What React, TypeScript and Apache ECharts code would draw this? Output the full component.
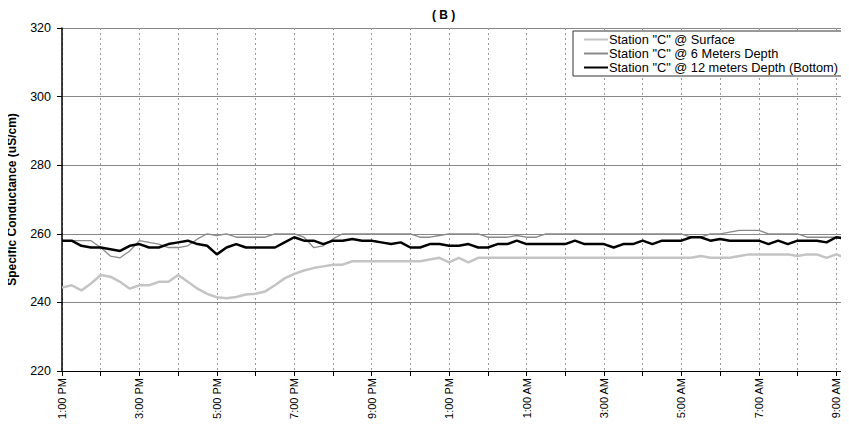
import React, { useEffect, useRef } from "react";
import * as echarts from "echarts";

const SERIES_NAMES = [
  'Station "C" @ Surface',
  'Station "C" @ 6 Meters Depth',
  'Station "C" @ 12 meters Depth (Bottom)',
];

// sampled every 15 minutes starting 1:00 PM
const surface = [
  244.3, 245, 243.5, 245.5, 248, 247.5, 246, 244, 245, 245,
  246, 246, 248, 246, 244, 242.5, 241.5, 241.2, 241.6, 242.3,
  242.5, 243.2, 245, 247, 248.3, 249.3, 250, 250.5, 251, 251,
  252, 252, 252, 252, 252, 252, 252, 252, 252.5, 253,
  251.7, 253, 251.7, 253, 253, 253, 253, 253, 253, 253,
  253, 253, 253, 253, 253, 253, 253, 253, 253, 253,
  253, 253, 253, 253, 253, 253, 253.5, 253, 253, 253,
  253.5, 254, 254, 254, 254, 254, 253.5, 254, 254, 253,
  254, 253,
];

const sixMeters = [
  258, 258, 258, 258, 256, 253.5, 253, 255, 258, 257.5,
  257, 256, 256, 256.5, 258.5, 260, 259.5, 260, 259, 259,
  259, 259, 260, 260, 260, 259, 256, 256.5, 258.5, 260,
  260, 260, 260, 260, 260, 260, 260, 259, 259, 259.5,
  260, 260, 260, 260, 259, 259, 259, 259.5, 259, 259,
  260, 260, 260, 260, 260, 260, 260, 260, 260, 260,
  260, 260, 260, 260, 260, 259, 259, 260, 260, 260.5,
  261, 261, 261, 260, 260, 260, 260, 259, 259, 259,
  259, 259,
];

const bottom = [
  258, 258, 256.5, 256, 256, 255.5, 255, 256.5, 257, 256,
  256, 257, 257.5, 258, 257, 256.5, 254, 256, 257, 256,
  256, 256, 256, 257.5, 259, 258, 258, 257, 258, 258,
  258.5, 258, 258, 257.5, 257, 257.5, 256, 256, 257, 257,
  256.5, 256.5, 257, 256, 256, 257, 257, 258, 257, 257,
  257, 257, 257, 258, 257, 257, 257, 256, 257, 257,
  258, 257, 258, 258, 258, 259, 259, 258, 258.5, 258,
  258, 258, 258, 257, 258, 257, 258, 258, 258, 257.5,
  259, 258.5,
];

const START_HOUR = 13; // 1:00 PM
const STEP_HOURS = 0.25;
const X_MAX = 20.33;

const Y_TICKS = [220, 240, 260, 280, 300, 320];

function clockLabel(h: number): string {
  const hr = (START_HOUR + h) % 24;
  const suffix = hr >= 12 ? "PM" : "AM";
  let h12 = hr % 12;
  if (h12 === 0) h12 = 12;
  return `${h12}:00 ${suffix}`;
}

function toPairs(vals: number[]) {
  return vals.map((v, i) => [i * STEP_HOURS, v]);
}

const FONT = "Liberation Sans, Arial, sans-serif";

export default function App() {
  const ref = useRef<HTMLDivElement>(null);
  useEffect(() => {
    if (!ref.current) return;
    const chart = echarts.init(ref.current, undefined, { renderer: "svg" });
    chart.setOption({
      animation: false,
      backgroundColor: "#ffffff",
      textStyle: { fontFamily: FONT },
      title: {
        text: "( B )",
        left: 427,
        top: 4,
        textStyle: { fontSize: 12, fontWeight: "bold", color: "#000", fontFamily: FONT },
      },
      legend: {
        orient: "vertical",
        left: 573,
        top: 31,
        width: 270,
        padding: [2, 6, 2, 10],
        itemGap: 1,
        itemWidth: 24,
        itemHeight: 12,
        backgroundColor: "#fff",
        borderColor: "#333",
        borderWidth: 1,
        borderRadius: 0,
        itemStyle: { opacity: 0 },
        textStyle: { fontSize: 12.8, color: "#000", fontFamily: FONT, padding: [0, 0, 0, -4] },
        data: SERIES_NAMES,
      },
      grid: {
        left: 62,
        right: 0,
        top: 28,
        bottom: 56,
        containLabel: false,
        outerBoundsMode: "none",
      },
      xAxis: {
        type: "value",
        min: 0,
        max: X_MAX,
        interval: 1,
        axisLine: { show: true, lineStyle: { color: "#000", width: 1 } },
        axisTick: { show: true, length: 5, lineStyle: { color: "#000" } },
        axisLabel: {
          rotate: 90,
          fontSize: 11,
          color: "#000",
          fontFamily: FONT,
          margin: 7,
          showMaxLabel: false,
          formatter: (v: number) => {
            const r = Math.round(v);
            if (Math.abs(v - r) > 1e-6) return "";
            if (r % 2 !== 0) return "";
            return clockLabel(r);
          },
        },
        splitLine: { show: true, lineStyle: { color: "#999", type: [2, 3], width: 1 } },
      },
      yAxis: {
        type: "value",
        min: Y_TICKS[0],
        max: Y_TICKS[Y_TICKS.length - 1],
        interval: 20,
        name: "Specific Conductance (uS/cm)",
        nameLocation: "middle",
        nameGap: 44,
        nameTextStyle: { fontSize: 12, fontWeight: "bold", color: "#000", fontFamily: FONT },
        axisLine: { show: true, lineStyle: { color: "#000", width: 1.5 } },
        axisTick: { show: true, length: 5, lineStyle: { color: "#000" } },
        axisLabel: { fontSize: 12.5, color: "#000", fontFamily: FONT, margin: 11 },
        splitLine: { show: true, lineStyle: { color: "#888", width: 1.2 } },
      },
      series: [
        {
          name: SERIES_NAMES[0],
          type: "line",
          symbol: "none",
          data: toPairs(surface),
          lineStyle: { color: "#c4c4c4", width: 2.5 },
          itemStyle: { color: "#c4c4c4" },
          z: 2,
        },
        {
          name: SERIES_NAMES[1],
          type: "line",
          symbol: "none",
          data: toPairs(sixMeters),
          lineStyle: { color: "#8a8a8a", width: 1.3 },
          itemStyle: { color: "#8a8a8a" },
          z: 3,
        },
        {
          name: SERIES_NAMES[2],
          type: "line",
          symbol: "none",
          data: toPairs(bottom),
          lineStyle: { color: "#000", width: 2.5 },
          itemStyle: { color: "#000" },
          z: 4,
        },
      ],
    });
    return () => chart.dispose();
  }, []);
  return <div ref={ref} style={{ width: 849, height: 427, margin: -8 }} />;
}
